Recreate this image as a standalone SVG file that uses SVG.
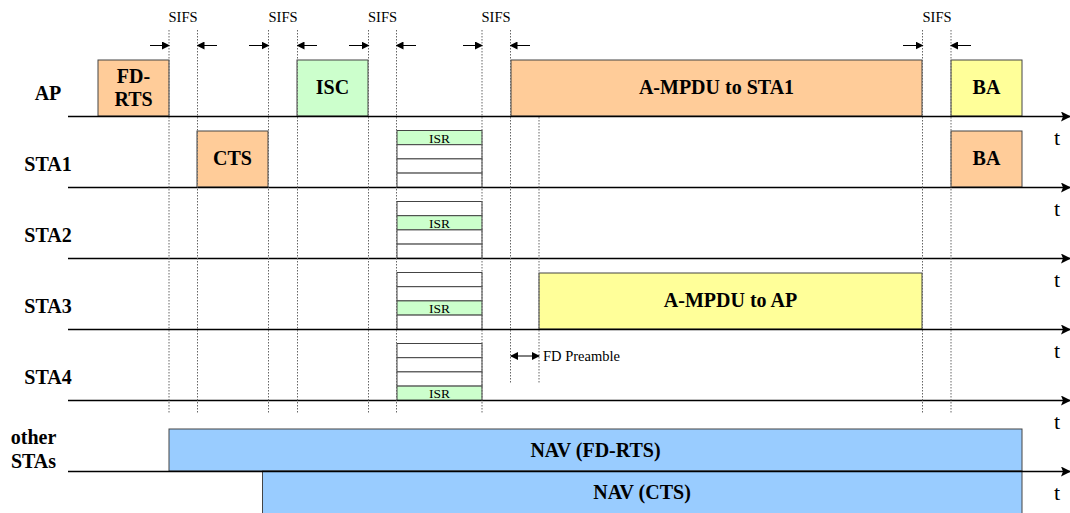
<svg xmlns="http://www.w3.org/2000/svg" width="1070" height="513" viewBox="0 0 1070 513">
  <defs>
    <marker id="axisHead" markerWidth="10" markerHeight="10" refX="9" refY="5" orient="auto" markerUnits="userSpaceOnUse">
      <path d="M0,0 L10,5 L0,10 L2,5 Z" fill="#000"/>
    </marker>
    <marker id="sifsHead" markerWidth="8" markerHeight="8" refX="7" refY="4" orient="auto" markerUnits="userSpaceOnUse">
      <path d="M0,0 L8,4 L0,8 Z" fill="#000"/>
    </marker>
    <marker id="sifsTail" markerWidth="8" markerHeight="8" refX="1" refY="4" orient="auto" markerUnits="userSpaceOnUse">
      <path d="M8,0 L0,4 L8,8 Z" fill="#000"/>
    </marker>
  </defs>
  <style>
    .axis { stroke:#000; stroke-width:1.3; fill:none; }
    .guide { stroke:#666; stroke-width:1; stroke-dasharray:1.5 1.5; fill:none; }
    .sifs { stroke:#000; stroke-width:1; fill:none; }
    .box { stroke:#444; stroke-width:1; }
    .orange { fill:#FFCC99; }
    .green { fill:#CCFFCC; }
    .yellow { fill:#FFFF99; }
    .blue { fill:#99CCFF; }
    .white { fill:#FFFFFF; }
    .lbl { font-family:"Liberation Serif", "Times New Roman", serif; font-weight:bold; font-size:20px; fill:#000; text-anchor:middle; }
    .row { font-family:"Liberation Serif", "Times New Roman", serif; font-weight:bold; font-size:20px; fill:#000; text-anchor:middle; }
    .small { font-family:"Liberation Serif", "Times New Roman", serif; font-size:14.5px; fill:#000; text-anchor:middle; }
    .isr { font-family:"Liberation Serif", "Times New Roman", serif; font-size:13.5px; fill:#000; text-anchor:middle; }
    .t { font-family:"Liberation Serif", "Times New Roman", serif; font-size:22px; fill:#000; }
  </style>
  <rect width="1070" height="513" fill="#fff"/>

  <!-- row labels -->
  <g id="row-labels">
    <text class="row" x="48" y="100">AP</text>
    <text class="row" x="48" y="171">STA1</text>
    <text class="row" x="48" y="242">STA2</text>
    <text class="row" x="48" y="313">STA3</text>
    <text class="row" x="48" y="384">STA4</text>
    <text class="row" x="33.5" y="444">other</text>
    <text class="row" x="33.5" y="468">STAs</text>
  </g>

  <!-- frames -->
  <g id="fd-rts">
    <rect class="box orange" x="98" y="60" width="71" height="56"/>
    <text class="lbl" x="133.5" y="83">FD-</text>
    <text class="lbl" x="133.5" y="106">RTS</text>
  </g>
  <g id="isc">
    <rect class="box green" x="297" y="60" width="71" height="56"/>
    <text class="lbl" x="332.5" y="94">ISC</text>
  </g>
  <g id="ampdu-sta1">
    <rect class="box orange" x="511" y="60" width="411" height="56"/>
    <text class="lbl" x="716.5" y="94">A-MPDU to STA1</text>
  </g>
  <g id="ba-ap">
    <rect class="box yellow" x="951" y="60" width="71" height="56"/>
    <text class="lbl" x="986.5" y="94">BA</text>
  </g>
  <g id="cts">
    <rect class="box orange" x="197" y="131" width="71" height="56"/>
    <text class="lbl" x="232.5" y="165">CTS</text>
  </g>
  <g id="ba-sta1">
    <rect class="box orange" x="951" y="131" width="71" height="56"/>
    <text class="lbl" x="986.5" y="165">BA</text>
  </g>
  <g id="ampdu-ap">
    <rect class="box yellow" x="539" y="273" width="383" height="56"/>
    <text class="lbl" x="730.5" y="307">A-MPDU to AP</text>
  </g>
  <g id="nav-fd-rts">
    <rect class="box blue" x="169" y="429" width="853" height="42"/>
    <text class="lbl" x="595.5" y="457">NAV (FD-RTS)</text>
  </g>
  <g id="nav-cts">
    <rect class="box blue" x="262.5" y="471" width="759.5" height="46"/>
    <text class="lbl" x="642" y="499">NAV (CTS)</text>
  </g>

  <!-- ISR slot stacks -->
  <g id="isr-sta1">
    <rect class="box green" x="397" y="130.5" width="85" height="14.2"/>
    <rect class="box white" x="397" y="144.7" width="85" height="14.2"/>
    <rect class="box white" x="397" y="158.9" width="85" height="14.2"/>
    <rect class="box white" x="397" y="173.1" width="85" height="14.2"/>
    <text class="isr" x="439.5" y="142.5">ISR</text>
  </g>
  <g id="isr-sta2">
    <rect class="box white" x="397" y="201.5" width="85" height="14.2"/>
    <rect class="box green" x="397" y="215.7" width="85" height="14.2"/>
    <rect class="box white" x="397" y="229.9" width="85" height="14.2"/>
    <rect class="box white" x="397" y="244.1" width="85" height="14.2"/>
    <text class="isr" x="439.5" y="227.5">ISR</text>
  </g>
  <g id="isr-sta3">
    <rect class="box white" x="397" y="272.5" width="85" height="14.2"/>
    <rect class="box white" x="397" y="286.7" width="85" height="14.2"/>
    <rect class="box green" x="397" y="300.9" width="85" height="14.2"/>
    <rect class="box white" x="397" y="315.1" width="85" height="14.2"/>
    <text class="isr" x="439.5" y="312.5">ISR</text>
  </g>
  <g id="isr-sta4">
    <rect class="box white" x="397" y="343.5" width="85" height="14.2"/>
    <rect class="box white" x="397" y="357.7" width="85" height="14.2"/>
    <rect class="box white" x="397" y="371.9" width="85" height="14.2"/>
    <rect class="box green" x="397" y="386.1" width="85" height="14.2"/>
    <text class="isr" x="439.5" y="397.5">ISR</text>
  </g>

  <!-- time axes, timing guides and interval arrows -->
  <g id="connectors">
    <line class="axis" x1="68" y1="116.5" x2="1070" y2="116.5" marker-end="url(#axisHead)"/>
    <line class="axis" x1="68" y1="187.5" x2="1070" y2="187.5" marker-end="url(#axisHead)"/>
    <line class="axis" x1="68" y1="258.5" x2="1070" y2="258.5" marker-end="url(#axisHead)"/>
    <line class="axis" x1="68" y1="329.5" x2="1070" y2="329.5" marker-end="url(#axisHead)"/>
    <line class="axis" x1="68" y1="400.5" x2="1070" y2="400.5" marker-end="url(#axisHead)"/>
    <line class="axis" x1="68" y1="471.5" x2="1070" y2="471.5" marker-end="url(#axisHead)"/>

    <line class="guide" x1="169" y1="30" x2="169" y2="414"/>
    <line class="guide" x1="197.5" y1="30" x2="197.5" y2="414"/>
    <line class="guide" x1="268.5" y1="30" x2="268.5" y2="414"/>
    <line class="guide" x1="297.5" y1="30" x2="297.5" y2="414"/>
    <line class="guide" x1="368.5" y1="30" x2="368.5" y2="414"/>
    <line class="guide" x1="396.5" y1="30" x2="396.5" y2="414"/>
    <line class="guide" x1="482" y1="30" x2="482" y2="414"/>
    <line class="guide" x1="510.5" y1="30" x2="510.5" y2="384"/>
    <line class="guide" x1="539" y1="117" x2="539" y2="384"/>
    <line class="guide" x1="922.5" y1="30" x2="922.5" y2="414"/>
    <line class="guide" x1="951" y1="30" x2="951" y2="414"/>

    <line class="sifs" x1="150" y1="45.5" x2="169" y2="45.5" marker-end="url(#sifsHead)"/>
    <line class="sifs" x1="217" y1="45.5" x2="197.5" y2="45.5" marker-end="url(#sifsHead)"/>
    <line class="sifs" x1="249" y1="45.5" x2="268.5" y2="45.5" marker-end="url(#sifsHead)"/>
    <line class="sifs" x1="317" y1="45.5" x2="297.5" y2="45.5" marker-end="url(#sifsHead)"/>
    <line class="sifs" x1="349" y1="45.5" x2="368.5" y2="45.5" marker-end="url(#sifsHead)"/>
    <line class="sifs" x1="416" y1="45.5" x2="396.5" y2="45.5" marker-end="url(#sifsHead)"/>
    <line class="sifs" x1="463" y1="45.5" x2="482" y2="45.5" marker-end="url(#sifsHead)"/>
    <line class="sifs" x1="530" y1="45.5" x2="510.5" y2="45.5" marker-end="url(#sifsHead)"/>
    <line class="sifs" x1="903" y1="45.5" x2="922.5" y2="45.5" marker-end="url(#sifsHead)"/>
    <line class="sifs" x1="971" y1="45.5" x2="951" y2="45.5" marker-end="url(#sifsHead)"/>

    <line class="sifs" x1="511" y1="356" x2="539" y2="356" marker-start="url(#sifsTail)" marker-end="url(#sifsHead)"/>
  </g>

  <!-- annotations -->
  <g id="annotations">
    <text class="small" x="183" y="22">SIFS</text>
    <text class="small" x="283" y="22">SIFS</text>
    <text class="small" x="382.5" y="22">SIFS</text>
    <text class="small" x="496" y="22">SIFS</text>
    <text class="small" x="937" y="22">SIFS</text>
    <text class="small" x="543" y="361" style="text-anchor:start">FD Preamble</text>
    <text class="t" x="1054" y="145">t</text>
    <text class="t" x="1054" y="216">t</text>
    <text class="t" x="1054" y="287">t</text>
    <text class="t" x="1054" y="358">t</text>
    <text class="t" x="1054" y="429">t</text>
    <text class="t" x="1054" y="500">t</text>
  </g>
</svg>
